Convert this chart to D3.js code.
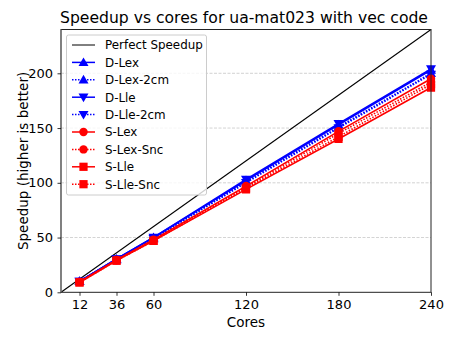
<!DOCTYPE html>
<meta charset="utf-8">
<style>
  body { margin: 0; background: #fff; }
  text { font-family: "DejaVu Sans", sans-serif; fill: #000; }
</style>
<body>
<svg width="454" height="341"></svg>
<script src="https://d3js.org/d3.v7.min.js"></script>
<script>
  // data
  var cores = [12, 36, 60, 120, 180, 240];
  var dLex     = [10, 30.5, 50, 102, 153, 203];
  var dLex2cm  = [10, 30, 49, 101, 151, 200];
  var dLle     = [10, 30.5, 50, 103, 154, 204];
  var dLle2cm  = [10, 30, 49, 100, 150, 199];
  var sLex     = [9.5, 29.5, 48, 97, 147, 195];
  var sLexSnc  = [9.5, 29.5, 47.5, 96, 145, 192];
  var sLle     = [9, 29, 47, 94, 140, 187];
  var sLleSnc  = [9, 29, 47, 95, 142, 190];
  var yTicks = [0, 50, 100, 150, 200];

  var series = [
    {name: 'D-Lex', values: dLex, color: '#0000ff', dash: null, marker: 'up'},
    {name: 'D-Lex-2cm', values: dLex2cm, color: '#0000ff', dash: '1.5,1.5', marker: 'up'},
    {name: 'D-Lle', values: dLle, color: '#0000ff', dash: null, marker: 'down'},
    {name: 'D-Lle-2cm', values: dLle2cm, color: '#0000ff', dash: '1.5,1.5', marker: 'down'},
    {name: 'S-Lex', values: sLex, color: '#ff0000', dash: null, marker: 'circle'},
    {name: 'S-Lex-Snc', values: sLexSnc, color: '#ff0000', dash: '1.5,1.5', marker: 'circle'},
    {name: 'S-Lle', values: sLle, color: '#ff0000', dash: null, marker: 'square'},
    {name: 'S-Lle-Snc', values: sLleSnc, color: '#ff0000', dash: '1.5,1.5', marker: 'square'}
  ];

  var svg = d3.select('svg');
  var mLeft = 61, mRight = 431, mTop = 29.5, mBottom = 292.3;

  var x = d3.scaleLinear().domain([0, 240]).range([mLeft, mRight]);
  var y = d3.scaleLinear().domain([0, 240]).range([mBottom, mTop]);

  svg.append('defs').append('clipPath').attr('id', 'clip')
    .append('rect').attr('x', mLeft).attr('y', mTop - 8)
    .attr('width', mRight - mLeft + 10).attr('height', mBottom - mTop + 8);

  // grid
  svg.append('g').selectAll('line').data(yTicks.slice(1)).enter().append('line')
    .attr('x1', mLeft).attr('x2', mRight)
    .attr('y1', function (d) { return y(d); })
    .attr('y2', function (d) { return y(d); })
    .attr('stroke', '#b0b0b0').attr('stroke-width', 0.8)
    .attr('stroke-dasharray', '3,1.5').attr('opacity', 0.7);

  // perfect speedup
  svg.append('line')
    .attr('x1', x(0)).attr('y1', y(0)).attr('x2', x(240)).attr('y2', y(240))
    .attr('stroke', '#000').attr('stroke-width', 1.1);

  var line = d3.line()
    .x(function (d) { return x(d[0]); })
    .y(function (d) { return y(d[1]); });

  function markerPath(type) {
    if (type === 'up') return 'M0,-5 L5,3.7 L-5,3.7 Z';
    if (type === 'down') return 'M0,5 L-5,-3.7 L5,-3.7 Z';
    if (type === 'circle') return d3.symbol().type(d3.symbolCircle).size(56)();
    return d3.symbol().type(d3.symbolSquare).size(68)();
  }

  var plot = svg.append('g').attr('clip-path', 'url(#clip)');
  series.forEach(function (s) {
    var pts = cores.map(function (c, i) { return [c, s.values[i]]; });
    plot.append('path')
      .attr('d', line(pts))
      .attr('fill', 'none')
      .attr('stroke', s.color)
      .attr('stroke-width', 1.6)
      .attr('stroke-dasharray', s.dash);
    plot.selectAll(null).data(pts).enter().append('path')
      .attr('transform', function (d) { return 'translate(' + x(d[0]) + ',' + y(d[1]) + ')'; })
      .attr('d', markerPath(s.marker))
      .attr('fill', s.color);
  });

  // spines
  svg.append('rect')
    .attr('x', mLeft).attr('y', mTop).attr('width', mRight - mLeft).attr('height', mBottom - mTop)
    .attr('fill', 'none').attr('stroke', '#222').attr('stroke-width', 1);
  svg.append('line').attr('x1', mLeft).attr('x2', mLeft).attr('y1', mTop).attr('y2', mBottom)
    .attr('stroke', '#777').attr('stroke-width', 1.2);

  // axes
  var xAxis = d3.axisBottom(x).tickValues(cores).tickSize(3.5).tickPadding(3.5);
  var gx = svg.append('g').attr('transform', 'translate(0,' + mBottom + ')').call(xAxis);
  var yAxis = d3.axisLeft(y).tickValues(yTicks).tickSize(3.5).tickPadding(4.5);
  var gy = svg.append('g').attr('transform', 'translate(' + mLeft + ',0)').call(yAxis);
  [gx, gy].forEach(function (g) {
    g.select('.domain').remove();
    g.attr('font-family', null).attr('font-size', null);
    g.selectAll('text').style('font-family', '"DejaVu Sans", sans-serif').style('font-size', '13px').attr('fill', '#000');
    g.selectAll('line').attr('stroke', '#000').attr('stroke-width', 0.8);
  });

  // labels
  svg.append('text').attr('x', (mLeft + mRight) / 2 - 2).attr('y', 22.5)
    .attr('text-anchor', 'middle').style('font-size', '15.6px')
    .text('Speedup vs cores for ua-mat023 with vec code');
  svg.append('text').attr('x', (mLeft + mRight) / 2).attr('y', 327)
    .attr('text-anchor', 'middle').style('font-size', '13.5px').text('Cores');
  svg.append('text')
    .attr('transform', 'translate(28,' + ((mTop + mBottom) / 2) + ') rotate(-90)')
    .attr('text-anchor', 'middle').style('font-size', '13.5px')
    .text('Speedup (higher is better)');

  // legend
  var legendItems = [{name: 'Perfect Speedup', color: '#000', dash: null, marker: null, width: 1}]
    .concat(series);
  var lg = svg.append('g');
  lg.append('rect').attr('x', 66.5).attr('y', 35).attr('width', 140).attr('height', 160)
    .attr('rx', 2).attr('fill', '#fff').attr('fill-opacity', 0.8)
    .attr('stroke', '#ccc').attr('stroke-width', 1);
  legendItems.forEach(function (d, i) {
    var ly = 45 + i * 17.4;
    var row = lg.append('g').attr('transform', 'translate(0,' + ly + ')');
    row.append('line').attr('x1', 72).attr('x2', 95).attr('y1', 0).attr('y2', 0)
      .attr('stroke', d.color).attr('stroke-width', d.width || 1.5)
      .attr('stroke-dasharray', d.dash);
    if (d.marker) {
      row.append('path').attr('transform', 'translate(83.5,0)')
        .attr('d', markerPath(d.marker))
        .attr('fill', d.color);
    }
    row.append('text').attr('x', 105).attr('y', 4.3).style('font-size', '11.9px').text(d.name);
  });
</script>
</body>
